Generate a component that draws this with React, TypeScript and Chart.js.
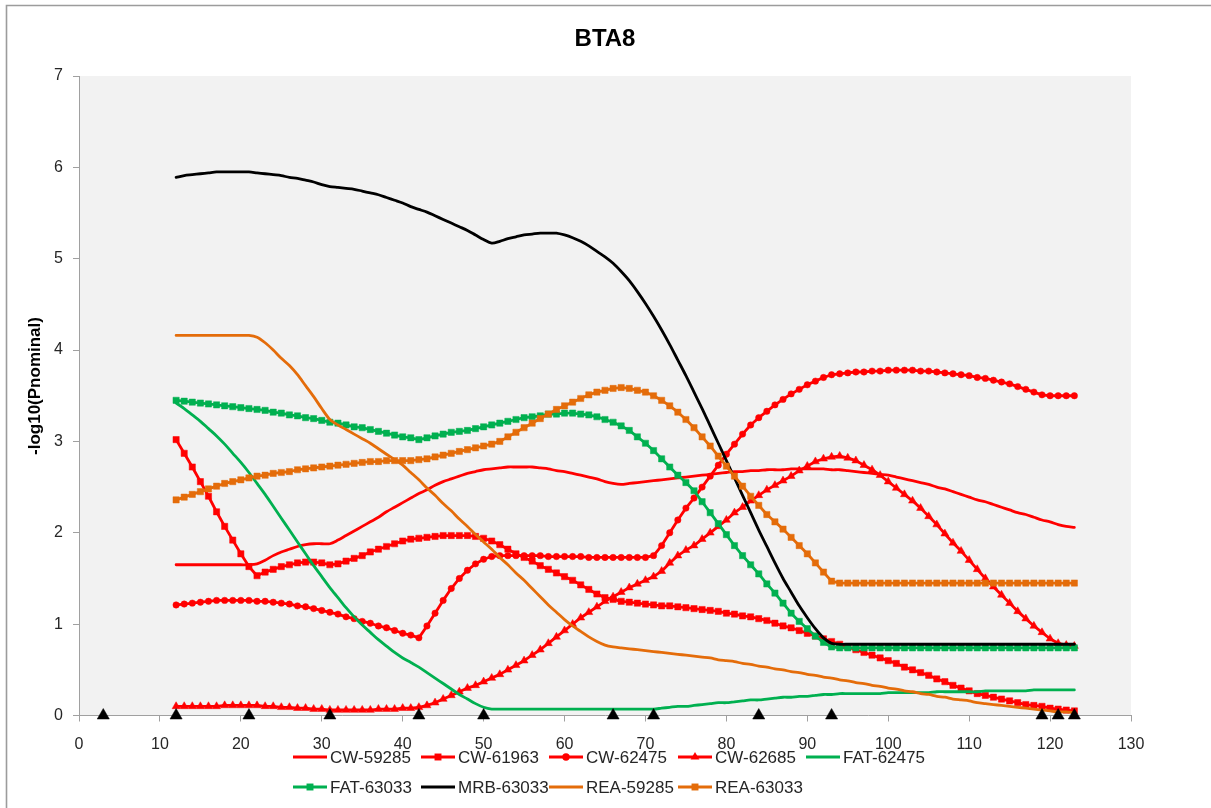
import React, { useEffect, useRef } from "react";
import { Chart, registerables } from "chart.js";

Chart.register(...registerables);

const FONT = '"Liberation Sans", Arial, sans-serif';
const RED = "#FF0000";
const GREEN = "#00B050";
const ORANGE = "#E46C0A";
const BLACK = "#000000";
const TEXT = "#262626";

// Map positions (cM), one value per position from 12 to 123
const positions = Array.from({ length: 112 }, (_, i) => 12 + i);

// Marker positions along the chromosome (drawn as black triangles on the x axis)
const markerPositions = [3, 12, 21, 31, 42, 50, 66, 71, 84, 93, 119, 121, 123];

const cw59285 = [
  1.65, 1.65, 1.65, 1.65, 1.65, 1.65, 1.65, 1.65, 1.65, 1.65,
  1.66, 1.70, 1.75, 1.79, 1.82, 1.85, 1.87, 1.88, 1.88, 1.88,
  1.92, 1.97, 2.02, 2.07, 2.12, 2.17, 2.23, 2.28, 2.33, 2.38,
  2.43, 2.47, 2.52, 2.56, 2.59, 2.62, 2.65, 2.67, 2.69, 2.70,
  2.71, 2.72, 2.72, 2.72, 2.72, 2.71, 2.70, 2.68, 2.67, 2.65,
  2.63, 2.61, 2.59, 2.56, 2.54, 2.53, 2.54, 2.55, 2.56, 2.57,
  2.58, 2.59, 2.60, 2.61, 2.62, 2.63, 2.64, 2.65, 2.66, 2.67,
  2.67, 2.68, 2.68, 2.69, 2.69, 2.69, 2.70, 2.70, 2.70, 2.70,
  2.70, 2.69, 2.69, 2.68, 2.67, 2.66, 2.65, 2.64, 2.63, 2.61,
  2.59, 2.57, 2.55, 2.53, 2.50, 2.48, 2.45, 2.42, 2.39, 2.36,
  2.34, 2.31, 2.28, 2.25, 2.22, 2.20, 2.17, 2.14, 2.12, 2.09,
  2.07, 2.06,
];

const cw61963 = [
  3.02, 2.87, 2.72, 2.56, 2.40, 2.23, 2.07, 1.92, 1.77, 1.63,
  1.53, 1.57, 1.60, 1.63, 1.65, 1.67, 1.68, 1.68, 1.67, 1.65,
  1.66, 1.69, 1.72, 1.75, 1.79, 1.82, 1.85, 1.88, 1.91, 1.93,
  1.94, 1.95, 1.96, 1.97, 1.97, 1.97, 1.97, 1.96, 1.94, 1.91,
  1.87, 1.82, 1.77, 1.73, 1.69, 1.64, 1.60, 1.56, 1.52, 1.48,
  1.43, 1.38, 1.33, 1.29, 1.27, 1.25, 1.24, 1.23, 1.22, 1.21,
  1.20, 1.20, 1.19, 1.18, 1.17, 1.16, 1.15, 1.14, 1.12, 1.11,
  1.09, 1.08, 1.06, 1.04, 1.01, 0.98, 0.96, 0.93, 0.90, 0.87,
  0.84, 0.81, 0.78, 0.75, 0.72, 0.69, 0.66, 0.63, 0.60, 0.57,
  0.53, 0.50, 0.47, 0.44, 0.40, 0.37, 0.33, 0.30, 0.27, 0.24,
  0.22, 0.20, 0.18, 0.16, 0.14, 0.12, 0.11, 0.10, 0.08, 0.07,
  0.06, 0.05,
];

const cw62475 = [
  1.21, 1.22, 1.23, 1.24, 1.25, 1.26, 1.26, 1.26, 1.26, 1.26,
  1.25, 1.25, 1.24, 1.23, 1.22, 1.20, 1.19, 1.17, 1.15, 1.13,
  1.11, 1.08, 1.06, 1.03, 1.01, 0.98, 0.96, 0.93, 0.90, 0.88,
  0.85, 0.98, 1.12, 1.26, 1.39, 1.50, 1.59, 1.66, 1.71, 1.74,
  1.75, 1.75, 1.75, 1.75, 1.75, 1.75, 1.74, 1.74, 1.74, 1.74,
  1.74, 1.73, 1.73, 1.73, 1.73, 1.73, 1.73, 1.73, 1.73, 1.75,
  1.86, 2.00, 2.14, 2.27, 2.38, 2.50, 2.62, 2.74, 2.86, 2.97,
  3.08, 3.18, 3.26, 3.33, 3.40, 3.46, 3.52, 3.57, 3.62, 3.66,
  3.70, 3.73, 3.74, 3.75, 3.76, 3.76, 3.77, 3.77, 3.78, 3.78,
  3.78, 3.78, 3.77, 3.77, 3.76, 3.75, 3.74, 3.73, 3.72, 3.70,
  3.69, 3.67, 3.65, 3.63, 3.60, 3.57, 3.54, 3.51, 3.50, 3.50,
  3.50, 3.50,
];

const cw62685 = [
  0.10, 0.10, 0.10, 0.10, 0.10, 0.10, 0.11, 0.11, 0.11, 0.11,
  0.11, 0.10, 0.10, 0.09, 0.09, 0.08, 0.08, 0.07, 0.07, 0.06,
  0.06, 0.06, 0.06, 0.06, 0.06, 0.07, 0.07, 0.07, 0.08, 0.08,
  0.09, 0.11, 0.14, 0.18, 0.22, 0.26, 0.30, 0.33, 0.37, 0.41,
  0.45, 0.50, 0.55, 0.60, 0.66, 0.72, 0.79, 0.86, 0.93, 1.00,
  1.07, 1.13, 1.19, 1.25, 1.30, 1.35, 1.40, 1.44, 1.48, 1.52,
  1.58, 1.67, 1.75, 1.81, 1.86, 1.93, 2.00, 2.07, 2.14, 2.22,
  2.28, 2.35, 2.41, 2.47, 2.52, 2.57, 2.62, 2.68, 2.73, 2.78,
  2.81, 2.83, 2.84, 2.82, 2.79, 2.74, 2.69, 2.63, 2.56, 2.49,
  2.42, 2.35, 2.27, 2.18, 2.09, 1.99, 1.89, 1.80, 1.70, 1.60,
  1.50, 1.41, 1.32, 1.23, 1.14, 1.06, 0.98, 0.91, 0.84, 0.79,
  0.77, 0.76,
];

const fat62475 = [
  3.42, 3.36, 3.29, 3.22, 3.14, 3.06, 2.97, 2.87, 2.77, 2.66,
  2.54, 2.42, 2.29, 2.16, 2.03, 1.90, 1.77, 1.64, 1.52, 1.40,
  1.29, 1.18, 1.08, 0.99, 0.91, 0.83, 0.76, 0.69, 0.63, 0.58,
  0.53, 0.47, 0.41, 0.35, 0.29, 0.23, 0.18, 0.13, 0.09, 0.07,
  0.07, 0.07, 0.07, 0.07, 0.07, 0.07, 0.07, 0.07, 0.07, 0.07,
  0.07, 0.07, 0.07, 0.07, 0.07, 0.07, 0.07, 0.07, 0.07, 0.07,
  0.08, 0.09, 0.10, 0.10, 0.11, 0.12, 0.13, 0.14, 0.14, 0.15,
  0.16, 0.17, 0.17, 0.18, 0.19, 0.20, 0.20, 0.21, 0.21, 0.22,
  0.23, 0.23, 0.24, 0.24, 0.24, 0.24, 0.24, 0.24, 0.25, 0.25,
  0.25, 0.25, 0.25, 0.25, 0.26, 0.26, 0.26, 0.26, 0.26, 0.26,
  0.27, 0.27, 0.27, 0.27, 0.27, 0.27, 0.28, 0.28, 0.28, 0.28,
  0.28, 0.28,
];

const fat63033 = [
  3.45, 3.44, 3.43, 3.42, 3.41, 3.40, 3.39, 3.38, 3.37, 3.36,
  3.35, 3.34, 3.32, 3.31, 3.29, 3.28, 3.26, 3.25, 3.23, 3.21,
  3.20, 3.18, 3.16, 3.15, 3.13, 3.11, 3.09, 3.07, 3.05, 3.04,
  3.02, 3.04, 3.06, 3.08, 3.10, 3.11, 3.12, 3.14, 3.16, 3.18,
  3.20, 3.22, 3.24, 3.26, 3.27, 3.28, 3.30, 3.30, 3.31, 3.31,
  3.30, 3.29, 3.27, 3.24, 3.21, 3.17, 3.12, 3.05, 2.98, 2.90,
  2.81, 2.72, 2.63, 2.55, 2.46, 2.34, 2.22, 2.10, 1.98, 1.86,
  1.75, 1.65, 1.55, 1.44, 1.34, 1.23, 1.12, 1.03, 0.95, 0.87,
  0.80, 0.75, 0.74, 0.74, 0.74, 0.74, 0.74, 0.74, 0.74, 0.74,
  0.74, 0.74, 0.74, 0.74, 0.74, 0.74, 0.74, 0.74, 0.74, 0.74,
  0.74, 0.74, 0.74, 0.74, 0.74, 0.74, 0.74, 0.74, 0.74, 0.74,
  0.74, 0.74,
];

const mrb63033 = [
  5.89, 5.91, 5.92, 5.93, 5.94, 5.95, 5.95, 5.95, 5.95, 5.95,
  5.94, 5.93, 5.92, 5.91, 5.89, 5.88, 5.86, 5.84, 5.81, 5.79,
  5.78, 5.77, 5.76, 5.74, 5.72, 5.70, 5.67, 5.64, 5.61, 5.57,
  5.54, 5.51, 5.47, 5.43, 5.39, 5.35, 5.31, 5.26, 5.21, 5.17,
  5.19, 5.22, 5.24, 5.26, 5.27, 5.28, 5.28, 5.28, 5.26, 5.23,
  5.19, 5.14, 5.08, 5.02, 4.95, 4.86, 4.76, 4.64, 4.51, 4.37,
  4.22, 4.06, 3.89, 3.72, 3.54, 3.36, 3.17, 2.98, 2.79, 2.60,
  2.41, 2.22, 2.03, 1.85, 1.67, 1.50, 1.35, 1.20, 1.07, 0.95,
  0.85, 0.79, 0.78, 0.78, 0.78, 0.78, 0.78, 0.78, 0.78, 0.78,
  0.78, 0.78, 0.78, 0.78, 0.78, 0.78, 0.78, 0.78, 0.78, 0.78,
  0.78, 0.78, 0.78, 0.78, 0.78, 0.78, 0.78, 0.78, 0.78, 0.78,
  0.78, 0.78,
];

const rea59285 = [
  4.16, 4.16, 4.16, 4.16, 4.16, 4.16, 4.16, 4.16, 4.16, 4.16,
  4.14, 4.08, 4.00, 3.91, 3.83, 3.73, 3.61, 3.49, 3.36, 3.24,
  3.18, 3.13, 3.08, 3.03, 2.98, 2.92, 2.86, 2.80, 2.74, 2.66,
  2.58, 2.49, 2.41, 2.32, 2.24, 2.15, 2.07, 1.98, 1.90, 1.82,
  1.73, 1.65, 1.56, 1.48, 1.39, 1.30, 1.21, 1.13, 1.05, 0.98,
  0.92, 0.86, 0.81, 0.77, 0.75, 0.74, 0.73, 0.72, 0.71, 0.70,
  0.69, 0.68, 0.67, 0.66, 0.65, 0.64, 0.63, 0.61, 0.60, 0.59,
  0.57, 0.56, 0.54, 0.53, 0.51, 0.50, 0.48, 0.47, 0.45, 0.44,
  0.42, 0.41, 0.39, 0.38, 0.36, 0.35, 0.33, 0.32, 0.30, 0.29,
  0.27, 0.26, 0.24, 0.23, 0.21, 0.20, 0.18, 0.17, 0.16, 0.14,
  0.13, 0.12, 0.11, 0.10, 0.09, 0.08, 0.07, 0.06, 0.05, 0.04,
  0.04, 0.03,
];

const rea63033 = [
  2.36, 2.39, 2.42, 2.45, 2.48, 2.51, 2.54, 2.56, 2.58, 2.60,
  2.62, 2.63, 2.65, 2.66, 2.67, 2.69, 2.70, 2.71, 2.72, 2.73,
  2.74, 2.75, 2.76, 2.77, 2.78, 2.78, 2.79, 2.79, 2.79, 2.79,
  2.80, 2.81, 2.83, 2.85, 2.87, 2.89, 2.91, 2.93, 2.95, 2.97,
  3.00, 3.05, 3.10, 3.15, 3.20, 3.25, 3.30, 3.35, 3.39, 3.43,
  3.47, 3.51, 3.54, 3.56, 3.58, 3.59, 3.58, 3.56, 3.54, 3.50,
  3.45, 3.39, 3.32, 3.24, 3.15, 3.05, 2.95, 2.84, 2.73, 2.62,
  2.51, 2.40, 2.30, 2.20, 2.12, 2.04, 1.95, 1.86, 1.77, 1.67,
  1.57, 1.47, 1.45, 1.45, 1.45, 1.45, 1.45, 1.45, 1.45, 1.45,
  1.45, 1.45, 1.45, 1.45, 1.45, 1.45, 1.45, 1.45, 1.45, 1.45,
  1.45, 1.45, 1.45, 1.45, 1.45, 1.45, 1.45, 1.45, 1.45, 1.45,
  1.45, 1.45,
];

const seriesNames = [
  "CW-59285", "CW-61963", "CW-62475", "CW-62685", "FAT-62475",
  "FAT-63033", "MRB-63033", "REA-59285", "REA-63033",
];
const seriesValues = [
  cw59285, cw61963, cw62475, cw62685, fat62475,
  fat63033, mrb63033, rea59285, rea63033,
];
const seriesColors = [RED, RED, RED, RED, GREEN, GREEN, BLACK, ORANGE, ORANGE];
const seriesMarkers: (string | null)[] = [
  null, "rect", "circle", "triangle", null, "rect", null, null, "rect",
];

const MARKER_RADIUS: Record<string, number> = { rect: 4.4, circle: 3.2, triangle: 4.6 };

const LEGEND_COLS = [293, 421, 549, 678, 806];
const LEGEND_ROWS = [757, 787];

function drawMarker(ctx: CanvasRenderingContext2D, style: string, x: number, y: number, r: number) {
  ctx.beginPath();
  if (style === "rect") {
    const s = r * Math.SQRT1_2;
    ctx.rect(x - s, y - s, 2 * s, 2 * s);
  } else if (style === "circle") {
    ctx.arc(x, y, r, 0, Math.PI * 2);
  } else if (style === "triangle") {
    ctx.moveTo(x, y - r);
    ctx.lineTo(x + r * 0.866, y + r / 2);
    ctx.lineTo(x - r * 0.866, y + r / 2);
    ctx.closePath();
  }
  ctx.fill();
}

const decoPlugin = {
  id: "deco",
  beforeDraw(chart: any) {
    const { ctx, chartArea } = chart;
    ctx.save();
    ctx.fillStyle = "#ffffff";
    ctx.fillRect(0, 0, chart.width, chart.height);
    ctx.fillStyle = "#f2f2f2";
    ctx.fillRect(chartArea.left, chartArea.top, chartArea.right - chartArea.left, chartArea.bottom - chartArea.top);
    ctx.strokeStyle = "#9c9c9c";
    ctx.lineWidth = 1.6;
    ctx.beginPath();
    ctx.moveTo(6.5, chart.height + 5);
    ctx.lineTo(6.5, 5.5);
    ctx.lineTo(chart.width + 5, 5.5);
    ctx.stroke();
    ctx.restore();
  },
  afterDraw(chart: any) {
    const { ctx, chartArea } = chart;
    ctx.save();
    // Title
    ctx.fillStyle = "#000";
    ctx.font = `bold 24px ${FONT}`;
    ctx.textAlign = "center";
    ctx.textBaseline = "middle";
    ctx.fillText("BTA8", (chartArea.left + chartArea.right) / 2, 39);
    // Y axis title
    ctx.save();
    ctx.translate(35, 386);
    ctx.rotate(-Math.PI / 2);
    ctx.font = `bold 17px ${FONT}`;
    ctx.fillText("-log10(Pnominal)", 0, 0);
    ctx.restore();
    // Legend
    ctx.font = `17px ${FONT}`;
    ctx.textAlign = "left";
    ctx.textBaseline = "middle";
    seriesNames.forEach((name, i) => {
      const row = i < 5 ? 0 : 1;
      const col = i < 5 ? i : i - 5;
      const x0 = LEGEND_COLS[col];
      const y = LEGEND_ROWS[row];
      ctx.strokeStyle = seriesColors[i];
      ctx.fillStyle = seriesColors[i];
      ctx.lineWidth = 2.8;
      ctx.beginPath();
      ctx.moveTo(x0, y);
      ctx.lineTo(x0 + 34, y);
      ctx.stroke();
      const m = seriesMarkers[i];
      if (m) drawMarker(ctx, m, x0 + 17, y, MARKER_RADIUS[m] + 0.5);
      ctx.fillStyle = TEXT;
      ctx.fillText(name, x0 + 37, y + 1);
    });
    ctx.restore();
  },
};

export default function App() {
  const ref = useRef<HTMLCanvasElement>(null);
  useEffect(() => {
    if (!ref.current) return;
    const datasets: any[] = seriesNames.map((name, i) => {
      const m = seriesMarkers[i];
      return {
        label: name,
        data: positions.map((x, j) => ({ x, y: seriesValues[i][j] })),
        borderColor: seriesColors[i],
        backgroundColor: seriesColors[i],
        pointBackgroundColor: seriesColors[i],
        pointBorderColor: seriesColors[i],
        borderWidth: 2.8,
        pointBorderWidth: 0.5,
        pointStyle: m || "circle",
        pointRadius: m ? MARKER_RADIUS[m] : 0,
        pointHoverRadius: 0,
        tension: m ? 0 : 0.3,
        order: 20 - i,
        showLine: true,
      };
    });
    datasets.unshift({
      label: "markers",
      data: markerPositions.map((x) => ({ x, y: 0 })),
      showLine: false,
      pointStyle: "triangle",
      pointRadius: 7,
      pointBackgroundColor: "#000",
      pointBorderColor: "#000",
      pointBorderWidth: 0.5,
      backgroundColor: "#000",
      borderColor: "#000",
      clip: false,
      order: 0,
    });
    const chart = new Chart(ref.current, {
      type: "line",
      data: { datasets },
      options: {
        animation: false,
        responsive: false,
        maintainAspectRatio: false,
        layout: { padding: { top: 76, right: 80, bottom: 0, left: 0 } },
        plugins: {
          legend: { display: false },
          title: { display: false },
          tooltip: { enabled: false },
        },
        elements: { line: { borderCapStyle: "round", borderJoinStyle: "round" } },
        scales: {
          x: {
            type: "linear",
            min: 0,
            max: 130,
            ticks: { stepSize: 10, color: TEXT, font: { family: FONT, size: 16 }, padding: 13, maxRotation: 0 },
            grid: { drawOnChartArea: false, drawTicks: true, tickLength: 6, color: "#a0a0a0" },
            border: { display: true, color: "#a0a0a0", width: 1 },
            afterFit: (s: any) => { s.height = 92.5; },
          },
          y: {
            type: "linear",
            min: 0,
            max: 7,
            ticks: { stepSize: 1, color: TEXT, font: { family: FONT, size: 16 }, padding: 10 },
            grid: { drawOnChartArea: false, drawTicks: true, tickLength: 6, color: "#a0a0a0" },
            border: { display: true, color: "#a0a0a0", width: 1 },
            afterFit: (s: any) => { s.width = 79; },
          },
        },
      },
      plugins: [decoPlugin],
    });
    return () => chart.destroy();
  }, []);
  return (
    <div style={{ position: "absolute", left: 0, top: 0, width: 1211, height: 808 }}>
      <canvas ref={ref} width={1211} height={808} style={{ display: "block", width: 1211, height: 808 }} />
    </div>
  );
}
